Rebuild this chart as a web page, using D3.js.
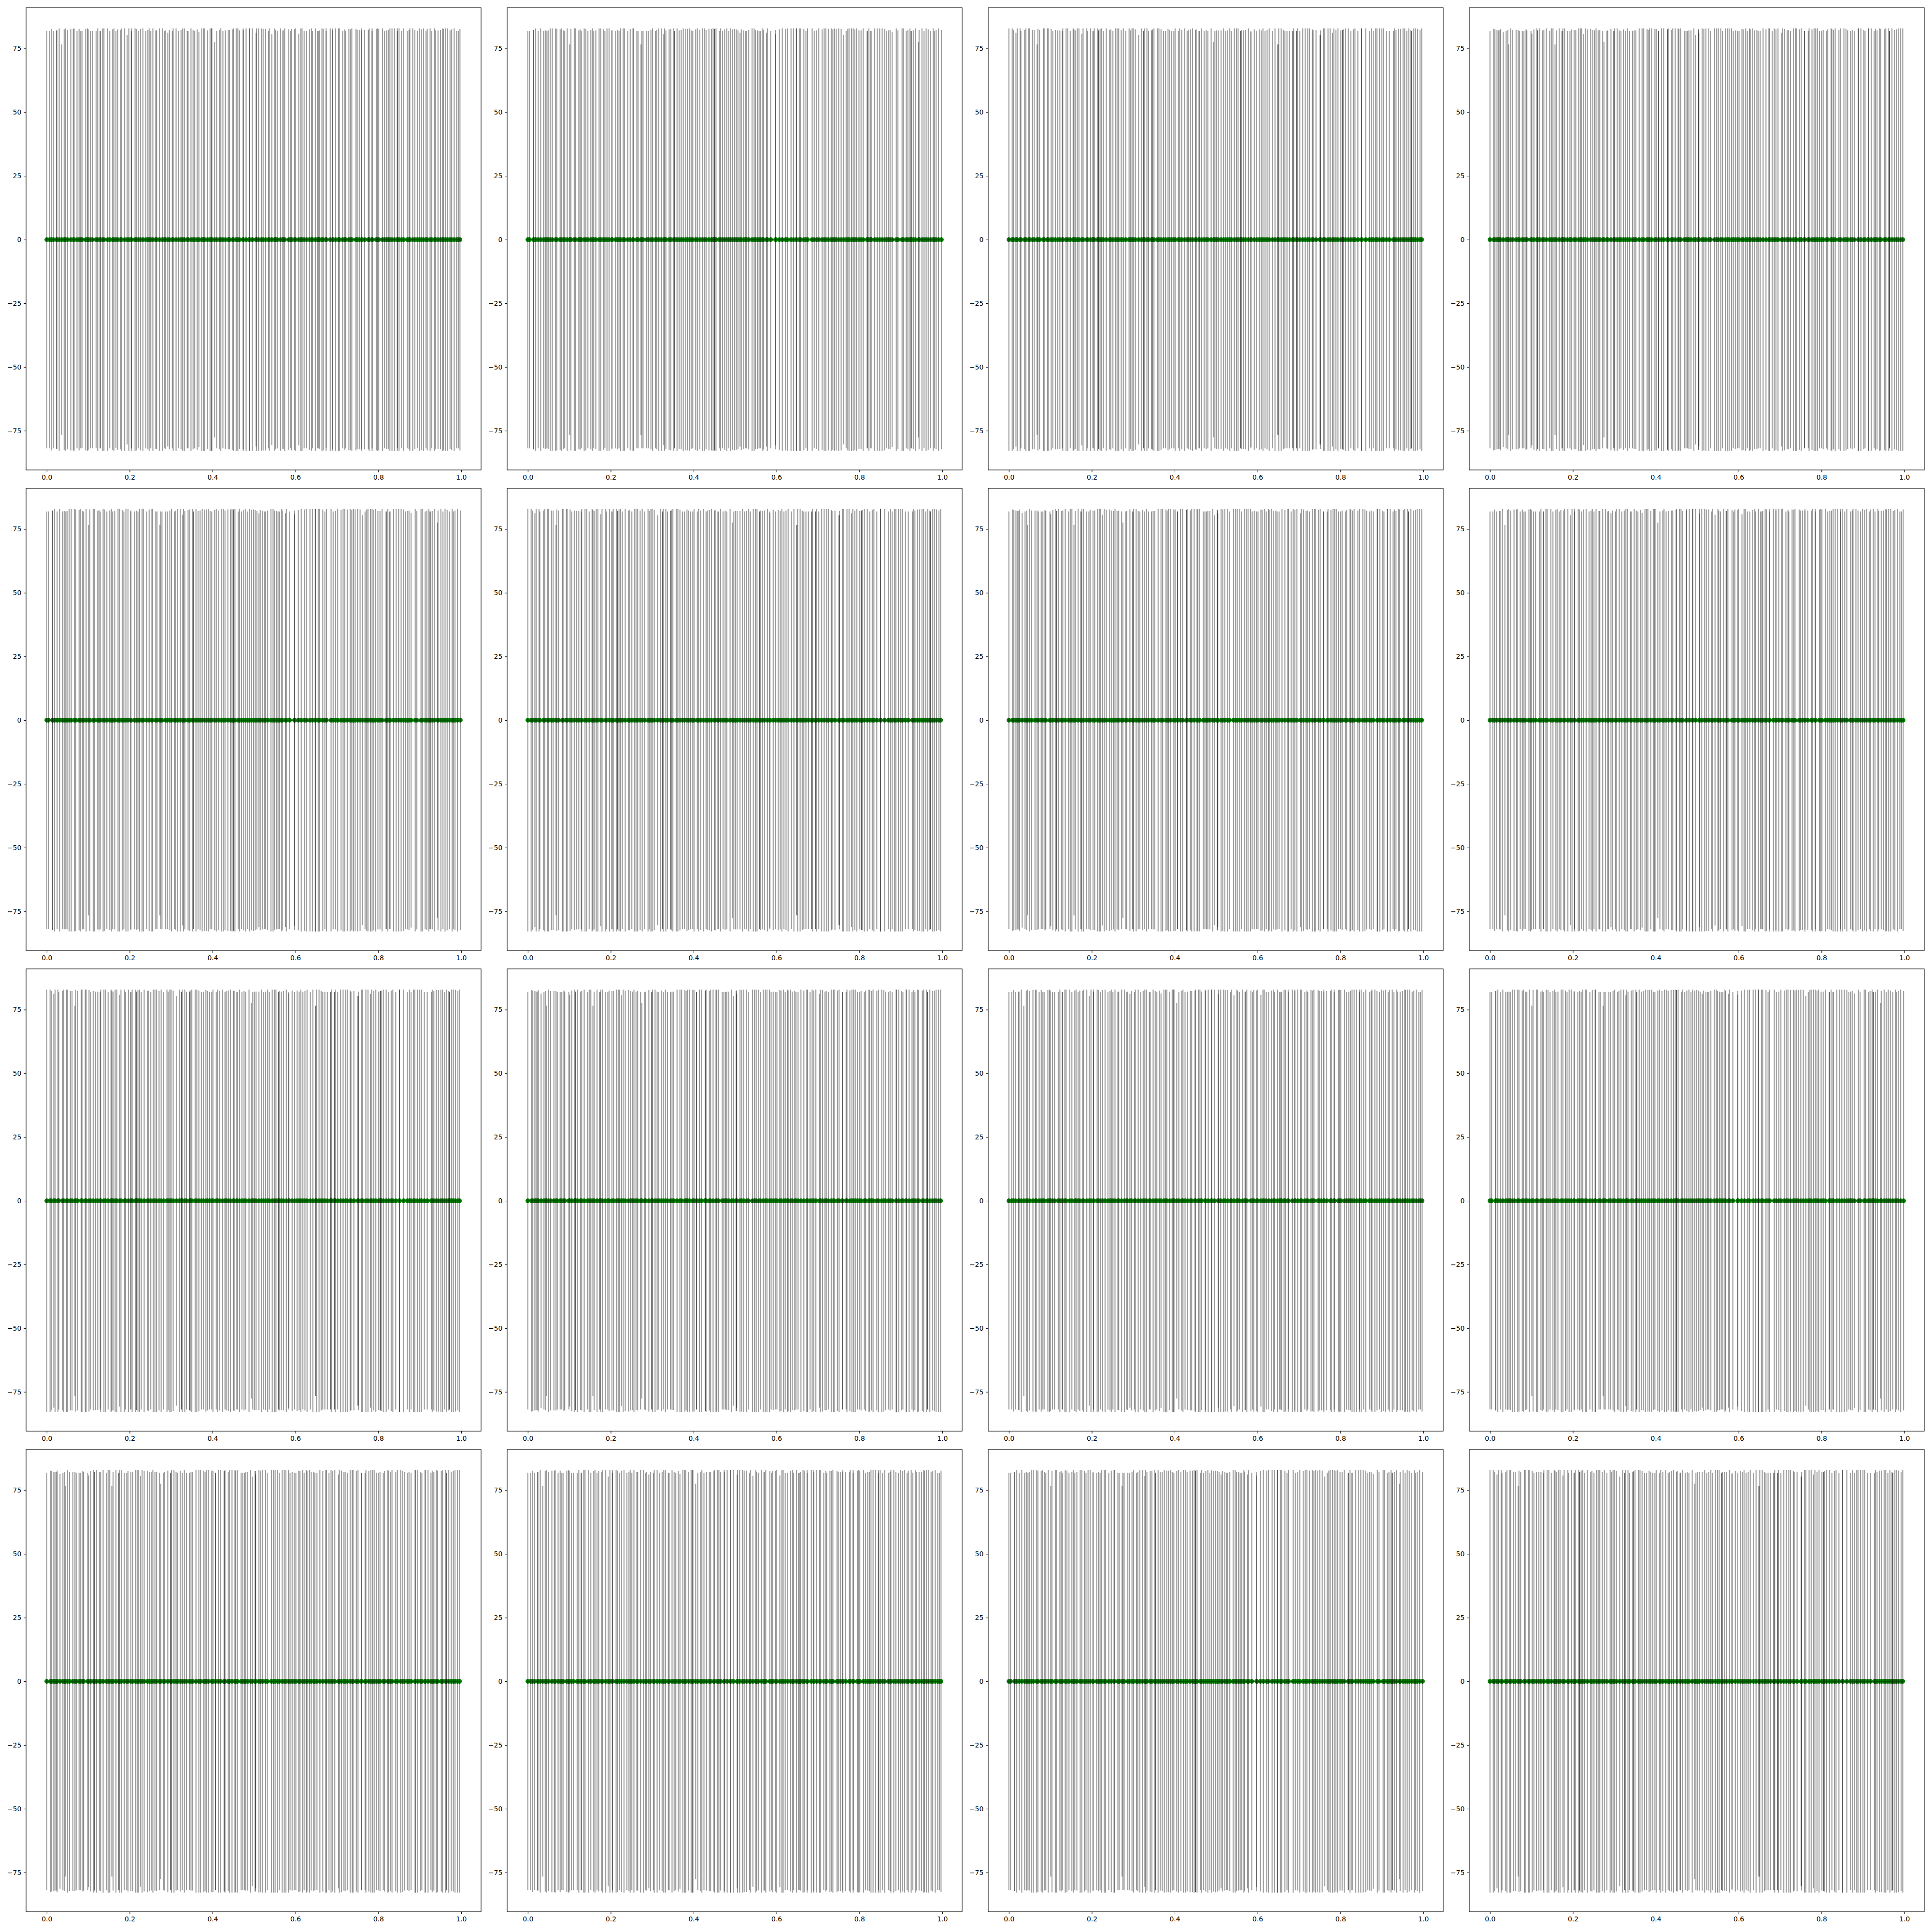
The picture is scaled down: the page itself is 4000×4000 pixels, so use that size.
<!DOCTYPE html>
<html><head><meta charset="utf-8">
<script src="https://cdn.jsdelivr.net/npm/d3@7"></script>
<style>body{margin:0;background:#fff} svg{display:block}</style>
</head><body>
<script>
const xTicks=[0,0.2,0.4,0.6,0.8,1.0];
const yTicks=[-75,-50,-25,0,25,50,75];
// each entry: [spike time, spike half-height]
const p1=[[0.000,81.9],[0.007,81.9],[0.011,82.7],[0.016,81.9],[0.024,82.1],[0.024,82.1],[0.030,82.9],[0.036,76.6],[0.042,82.5],[0.045,82.9],[0.050,82.3],[0.058,82.7],[0.064,82.7],[0.066,82.9],[0.073,81.9],[0.078,82.7],[0.082,81.9],[0.085,81.9],[0.094,82.7],[0.098,82.9],[0.100,82.5],[0.105,81.9],[0.110,81.9],[0.119,81.9],[0.123,82.9],[0.129,81.9],[0.129,81.9],[0.135,82.9],[0.138,82.9],[0.147,82.9],[0.152,81.9],[0.159,82.5],[0.162,82.9],[0.167,81.9],[0.171,82.5],[0.178,82.3],[0.180,82.9],[0.188,82.9],[0.194,80.4],[0.198,82.9],[0.204,82.9],[0.204,81.9],[0.213,82.9],[0.216,82.7],[0.221,81.9],[0.226,82.7],[0.232,82.9],[0.239,81.9],[0.244,82.3],[0.247,82.9],[0.251,81.9],[0.256,82.9],[0.263,82.1],[0.265,82.1],[0.272,82.9],[0.279,82.9],[0.284,81.9],[0.286,82.1],[0.292,81.2],[0.296,82.3],[0.303,81.9],[0.305,82.9],[0.312,82.9],[0.318,81.9],[0.324,82.3],[0.328,82.9],[0.332,82.9],[0.339,81.9],[0.341,81.9],[0.348,82.9],[0.353,82.3],[0.357,81.9],[0.363,82.5],[0.367,81.4],[0.374,82.9],[0.378,82.9],[0.381,82.9],[0.388,82.1],[0.394,82.9],[0.398,82.9],[0.398,82.9],[0.405,77.6],[0.410,81.9],[0.417,82.3],[0.420,82.9],[0.425,81.9],[0.431,82.1],[0.438,82.3],[0.441,82.3],[0.449,82.5],[0.450,82.9],[0.457,82.9],[0.461,82.9],[0.465,82.1],[0.474,82.3],[0.474,82.9],[0.481,82.9],[0.489,82.9],[0.489,82.9],[0.496,82.9],[0.505,81.2],[0.506,82.9],[0.511,82.9],[0.518,82.9],[0.522,82.7],[0.528,82.7],[0.535,81.9],[0.537,82.9],[0.543,80.6],[0.550,82.9],[0.552,82.3],[0.556,81.9],[0.564,82.9],[0.570,82.1],[0.570,82.1],[0.574,82.9],[0.584,82.5],[0.588,81.9],[0.591,82.7],[0.598,82.5],[0.600,82.9],[0.608,80.8],[0.613,82.9],[0.616,82.9],[0.621,81.9],[0.627,81.9],[0.634,82.5],[0.639,82.9],[0.641,81.9],[0.648,82.9],[0.653,81.9],[0.656,81.9],[0.658,82.1],[0.664,82.9],[0.667,82.7],[0.674,82.9],[0.674,81.9],[0.684,82.9],[0.690,82.9],[0.690,82.3],[0.697,82.9],[0.704,82.9],[0.706,82.9],[0.714,81.9],[0.719,82.5],[0.721,81.9],[0.729,82.7],[0.733,82.5],[0.736,82.9],[0.746,82.7],[0.749,82.3],[0.754,82.3],[0.760,82.9],[0.760,82.1],[0.767,82.3],[0.776,82.3],[0.778,82.9],[0.785,82.9],[0.785,81.9],[0.795,82.7],[0.798,82.9],[0.801,82.7],[0.810,82.9],[0.815,81.9],[0.820,82.1],[0.824,82.3],[0.828,82.9],[0.833,82.9],[0.839,82.9],[0.846,82.9],[0.846,81.9],[0.850,82.9],[0.856,81.9],[0.861,82.9],[0.870,81.9],[0.874,82.3],[0.876,82.9],[0.883,82.9],[0.888,82.3],[0.894,81.9],[0.899,82.9],[0.904,82.5],[0.909,82.9],[0.915,81.9],[0.918,82.7],[0.925,82.9],[0.929,81.9],[0.936,82.9],[0.938,82.1],[0.944,82.1],[0.950,82.3],[0.955,82.9],[0.957,82.7],[0.962,82.9],[0.967,82.9],[0.973,82.1],[0.977,82.5],[0.983,82.9],[0.989,81.9],[0.993,81.9],[0.997,82.7]];
const p2=[[0.000,81.9],[0.004,81.9],[0.014,82.3],[0.014,82.3],[0.019,82.9],[0.025,81.9],[0.031,82.9],[0.038,81.9],[0.042,82.1],[0.046,81.9],[0.049,82.1],[0.054,82.9],[0.059,82.9],[0.067,82.9],[0.070,82.7],[0.078,82.5],[0.081,82.9],[0.086,82.1],[0.089,81.9],[0.095,82.9],[0.101,76.6],[0.104,82.7],[0.112,82.9],[0.115,82.9],[0.123,82.1],[0.126,82.5],[0.129,81.9],[0.136,82.9],[0.140,82.7],[0.145,81.9],[0.152,82.3],[0.156,82.9],[0.159,81.9],[0.164,82.1],[0.172,82.9],[0.176,82.9],[0.182,82.5],[0.186,81.9],[0.191,82.9],[0.196,82.9],[0.203,82.3],[0.203,81.9],[0.212,81.9],[0.216,82.3],[0.220,81.9],[0.224,82.9],[0.230,82.9],[0.233,82.9],[0.241,81.9],[0.247,82.7],[0.254,82.9],[0.254,82.9],[0.263,81.9],[0.266,81.9],[0.273,76.6],[0.275,81.9],[0.278,81.9],[0.287,81.9],[0.291,81.9],[0.297,82.3],[0.301,82.9],[0.308,81.9],[0.311,82.3],[0.316,82.9],[0.322,82.9],[0.328,80.6],[0.330,82.9],[0.333,82.1],[0.341,82.5],[0.345,82.7],[0.352,82.9],[0.354,81.9],[0.354,81.9],[0.360,82.9],[0.365,82.1],[0.370,82.3],[0.375,82.9],[0.381,82.7],[0.385,82.7],[0.390,82.9],[0.394,82.1],[0.398,81.9],[0.405,82.5],[0.409,82.9],[0.415,82.3],[0.421,82.9],[0.426,82.9],[0.430,82.3],[0.437,82.7],[0.443,82.7],[0.447,82.9],[0.450,82.7],[0.450,82.7],[0.454,82.9],[0.462,81.9],[0.465,82.9],[0.470,81.9],[0.475,82.5],[0.480,82.9],[0.485,81.9],[0.489,82.9],[0.494,82.5],[0.499,82.7],[0.503,82.5],[0.507,82.1],[0.512,81.2],[0.515,82.5],[0.521,82.1],[0.525,81.9],[0.528,81.9],[0.533,82.3],[0.541,82.9],[0.546,82.9],[0.549,82.3],[0.554,82.1],[0.558,81.9],[0.562,81.9],[0.567,82.9],[0.568,82.3],[0.576,81.2],[0.578,82.9],[0.586,81.9],[0.598,82.3],[0.598,80.8],[0.607,82.5],[0.614,82.9],[0.622,82.7],[0.626,82.9],[0.635,82.9],[0.641,82.9],[0.648,82.9],[0.648,82.9],[0.655,82.9],[0.658,82.9],[0.666,82.7],[0.671,81.9],[0.675,82.9],[0.686,82.9],[0.691,81.9],[0.697,82.1],[0.702,82.9],[0.710,82.5],[0.715,82.9],[0.719,82.9],[0.725,82.7],[0.732,82.9],[0.736,82.5],[0.740,82.9],[0.744,82.7],[0.750,82.9],[0.756,82.7],[0.762,80.4],[0.768,81.9],[0.772,82.7],[0.775,82.9],[0.781,82.9],[0.785,82.9],[0.789,82.5],[0.793,82.9],[0.799,82.1],[0.804,82.1],[0.809,82.9],[0.819,81.9],[0.819,81.9],[0.823,82.9],[0.828,81.9],[0.828,81.9],[0.837,82.9],[0.843,82.9],[0.849,82.9],[0.855,82.9],[0.861,82.7],[0.866,81.9],[0.870,82.1],[0.874,82.3],[0.879,81.4],[0.889,82.9],[0.893,82.1],[0.903,82.9],[0.906,82.9],[0.913,81.9],[0.917,82.3],[0.922,82.9],[0.925,81.9],[0.925,81.9],[0.930,82.1],[0.935,82.9],[0.943,77.6],[0.944,82.3],[0.951,82.9],[0.956,81.9],[0.961,82.9],[0.966,82.5],[0.972,81.9],[0.978,82.9],[0.981,81.9],[0.985,82.3],[0.991,82.9],[0.998,82.3]];
const p3=[[0.000,82.9],[0.008,82.9],[0.011,82.3],[0.017,81.2],[0.020,82.9],[0.027,82.9],[0.029,81.9],[0.038,82.3],[0.041,82.9],[0.048,82.9],[0.050,82.9],[0.057,82.3],[0.061,82.3],[0.068,76.6],[0.070,82.7],[0.074,82.3],[0.083,82.9],[0.085,82.9],[0.093,82.9],[0.095,82.9],[0.102,82.7],[0.106,81.9],[0.112,82.3],[0.118,82.1],[0.123,82.1],[0.129,81.9],[0.130,82.9],[0.138,82.9],[0.142,82.9],[0.148,81.9],[0.155,82.9],[0.157,82.5],[0.160,82.1],[0.165,82.9],[0.169,82.9],[0.176,80.8],[0.179,82.9],[0.188,82.9],[0.190,81.9],[0.197,82.9],[0.203,81.9],[0.203,81.9],[0.206,82.9],[0.214,82.9],[0.216,82.1],[0.216,82.1],[0.220,82.7],[0.224,82.9],[0.228,81.9],[0.235,82.9],[0.243,82.3],[0.246,82.5],[0.251,81.9],[0.257,82.9],[0.261,82.9],[0.265,82.9],[0.271,82.3],[0.276,82.9],[0.282,81.9],[0.290,82.9],[0.293,82.1],[0.297,82.9],[0.300,82.9],[0.305,82.5],[0.313,80.4],[0.320,82.9],[0.325,81.9],[0.325,81.9],[0.327,82.9],[0.333,82.9],[0.337,81.9],[0.345,82.1],[0.345,82.1],[0.346,82.5],[0.350,82.9],[0.358,82.9],[0.362,82.9],[0.367,82.5],[0.373,81.9],[0.378,81.9],[0.384,82.7],[0.388,82.3],[0.393,81.9],[0.398,81.9],[0.401,82.9],[0.409,81.9],[0.412,82.9],[0.417,82.3],[0.424,82.9],[0.430,81.9],[0.433,82.3],[0.438,82.5],[0.443,82.9],[0.450,82.3],[0.452,82.5],[0.459,81.9],[0.459,81.9],[0.465,82.9],[0.471,81.9],[0.476,82.3],[0.480,81.9],[0.488,82.9],[0.494,77.6],[0.497,81.9],[0.501,82.1],[0.505,82.1],[0.512,82.1],[0.518,82.9],[0.523,81.9],[0.528,82.1],[0.533,82.9],[0.537,81.9],[0.544,82.9],[0.549,82.9],[0.553,82.9],[0.559,81.9],[0.559,81.9],[0.561,82.3],[0.566,82.1],[0.571,82.3],[0.578,82.9],[0.584,81.4],[0.584,81.9],[0.592,82.5],[0.598,81.9],[0.604,82.5],[0.609,82.1],[0.613,82.9],[0.618,81.9],[0.623,82.3],[0.628,82.9],[0.636,81.9],[0.642,82.9],[0.649,76.6],[0.649,76.6],[0.651,82.9],[0.657,82.9],[0.662,82.3],[0.666,81.9],[0.671,81.9],[0.677,81.9],[0.685,81.9],[0.685,81.9],[0.687,82.9],[0.694,81.9],[0.694,81.9],[0.696,82.9],[0.702,81.9],[0.709,82.9],[0.715,82.9],[0.721,82.9],[0.725,82.9],[0.732,82.5],[0.734,82.1],[0.741,82.3],[0.751,80.4],[0.751,80.4],[0.752,82.1],[0.759,82.9],[0.762,82.9],[0.770,82.9],[0.775,82.9],[0.781,81.2],[0.784,82.9],[0.789,82.3],[0.794,82.9],[0.801,82.1],[0.805,82.3],[0.805,82.3],[0.807,82.5],[0.812,82.9],[0.819,82.9],[0.825,81.9],[0.831,82.5],[0.835,82.9],[0.842,81.9],[0.851,82.9],[0.851,82.9],[0.861,82.9],[0.870,81.9],[0.875,82.9],[0.879,81.9],[0.885,82.9],[0.888,82.9],[0.894,82.9],[0.900,82.9],[0.904,82.9],[0.911,81.9],[0.918,81.9],[0.928,81.9],[0.930,82.9],[0.934,82.3],[0.940,82.7],[0.945,82.7],[0.951,82.9],[0.955,82.9],[0.960,81.9],[0.965,82.9],[0.970,82.3],[0.972,81.9],[0.972,81.9],[0.977,82.9],[0.981,82.9],[0.986,82.7],[0.992,82.3],[0.996,82.9]];
const p4=[[0.000,81.9],[0.009,82.7],[0.012,82.5],[0.017,82.3],[0.020,82.1],[0.024,82.1],[0.025,82.7],[0.032,81.4],[0.039,81.9],[0.043,82.3],[0.045,76.6],[0.050,82.9],[0.055,82.3],[0.063,82.3],[0.068,82.3],[0.071,81.9],[0.078,81.9],[0.082,81.9],[0.087,82.5],[0.089,82.1],[0.099,81.9],[0.101,80.8],[0.106,82.5],[0.113,82.9],[0.115,82.1],[0.115,82.1],[0.120,82.9],[0.127,82.1],[0.130,82.3],[0.136,82.9],[0.144,81.9],[0.148,82.9],[0.152,82.9],[0.157,76.6],[0.160,82.1],[0.167,82.9],[0.174,81.9],[0.174,81.9],[0.176,82.9],[0.180,82.9],[0.187,81.9],[0.193,81.9],[0.196,82.5],[0.203,82.3],[0.207,82.3],[0.214,82.9],[0.218,82.9],[0.221,82.9],[0.226,80.6],[0.230,82.9],[0.235,82.5],[0.243,82.7],[0.248,82.3],[0.252,82.1],[0.256,82.9],[0.261,82.1],[0.265,82.3],[0.272,81.9],[0.275,77.6],[0.282,81.9],[0.284,82.1],[0.292,82.7],[0.299,81.9],[0.299,81.9],[0.301,82.9],[0.307,82.9],[0.312,82.1],[0.316,81.9],[0.322,82.5],[0.327,81.9],[0.332,82.9],[0.337,81.9],[0.344,81.9],[0.348,82.1],[0.352,82.1],[0.360,82.9],[0.367,82.9],[0.371,82.9],[0.379,82.7],[0.382,82.3],[0.385,82.9],[0.390,82.9],[0.398,82.7],[0.401,82.7],[0.407,81.9],[0.407,81.9],[0.414,82.9],[0.419,82.9],[0.428,82.5],[0.428,82.5],[0.430,82.9],[0.438,82.3],[0.441,82.9],[0.447,82.9],[0.454,82.9],[0.456,82.7],[0.460,82.9],[0.469,81.9],[0.473,81.9],[0.477,81.9],[0.480,82.1],[0.485,82.1],[0.492,82.9],[0.496,80.4],[0.503,82.5],[0.503,82.5],[0.504,81.2],[0.512,82.9],[0.516,82.7],[0.521,82.9],[0.528,82.9],[0.532,81.9],[0.542,82.9],[0.547,82.9],[0.551,82.9],[0.557,82.9],[0.561,81.9],[0.568,82.9],[0.573,82.9],[0.577,82.9],[0.583,82.9],[0.587,81.9],[0.592,82.1],[0.597,81.9],[0.601,81.9],[0.608,82.7],[0.611,82.5],[0.617,82.9],[0.621,81.9],[0.626,82.9],[0.628,82.5],[0.634,82.9],[0.638,82.1],[0.644,82.3],[0.647,81.9],[0.652,81.9],[0.659,82.9],[0.666,82.5],[0.673,82.9],[0.675,82.9],[0.681,81.9],[0.686,82.9],[0.690,82.5],[0.695,82.9],[0.704,81.2],[0.706,82.9],[0.711,82.7],[0.717,82.1],[0.720,82.3],[0.725,81.9],[0.732,82.9],[0.737,82.9],[0.739,82.9],[0.747,82.5],[0.751,82.9],[0.759,81.9],[0.759,81.9],[0.768,81.9],[0.770,82.9],[0.777,82.5],[0.782,82.9],[0.786,82.9],[0.790,82.9],[0.795,81.9],[0.800,81.9],[0.804,82.3],[0.812,81.9],[0.815,82.5],[0.823,82.9],[0.825,82.7],[0.829,82.3],[0.833,82.9],[0.842,82.3],[0.846,82.9],[0.854,82.9],[0.859,82.7],[0.863,82.1],[0.870,81.9],[0.874,82.3],[0.879,81.9],[0.889,82.9],[0.889,82.9],[0.895,82.9],[0.902,82.3],[0.905,81.9],[0.913,82.9],[0.913,82.9],[0.920,82.9],[0.927,81.9],[0.930,82.7],[0.934,82.1],[0.940,82.9],[0.943,82.7],[0.952,82.5],[0.955,82.9],[0.962,82.9],[0.964,81.9],[0.964,81.9],[0.970,82.9],[0.976,82.3],[0.981,82.5],[0.985,82.9],[0.991,82.9],[0.996,82.9]];
// panels 5-16: not yet read individually; provisionally share the readings of the first row
const p5=p2,p6=p3,p7=p4,p8=p1,p9=p3,p10=p4,p11=p1,p12=p2,p13=p4,p14=p1,p15=p2,p16=p3;
const panels=[p1,p2,p3,p4,p5,p6,p7,p8,p9,p10,p11,p12,p13,p14,p15,p16];

const W=4000,H=4000,PW=942,PH=957;
const svg=d3.select('body').append('svg').attr('width',W).attr('height',H);
svg.append('rect').attr('width',W).attr('height',H).attr('fill','#fff');
const x=d3.scaleLinear().domain([-0.0499,1.0479]).range([0,PW]);
const y=d3.scaleLinear().domain([-90.4,91.0]).range([PH,0]);
const minus=d=>d<0?'\u2212'+Math.abs(d):String(d);

panels.forEach((data,i)=>{
  const r=Math.floor(i/4),c=i%4;
  const g=svg.append('g').attr('transform',`translate(${54+996*c},${16+995*r})`);
  const clip='clip'+i;
  g.append('clipPath').attr('id',clip).append('rect').attr('width',PW).attr('height',PH);
  const pg=g.append('g').attr('clip-path',`url(#${clip})`);
  pg.selectAll('circle').data(data).join('circle')
    .attr('cx',d=>x(d[0])).attr('cy',y(0)).attr('r',4.8).attr('fill','#008000');
  if(data.length) pg.append('path').datum(data)
    .attr('d',d3.line().x(d=>x(d[0])).y(()=>y(0)))
    .attr('fill','none').attr('stroke','#000').attr('stroke-opacity',0.35).attr('stroke-width',1);
  pg.selectAll('line.sp').data(data).join('line').attr('class','sp')
    .attr('x1',d=>x(d[0])).attr('x2',d=>x(d[0]))
    .attr('y1',d=>y(-d[1])).attr('y2',d=>y(d[1]))
    .attr('stroke','#000').attr('stroke-opacity',0.4).attr('stroke-width',2.08);
  const xa=g.append('g').attr('transform',`translate(0,${PH})`)
    .call(d3.axisBottom(x).tickValues(xTicks).tickFormat(d3.format('.1f')).tickSize(4.86).tickPadding(4.86));
  const ya=g.append('g')
    .call(d3.axisLeft(y).tickValues(yTicks).tickFormat(minus).tickSize(4.86).tickPadding(4.86));
  [xa,ya].forEach(a=>{
    a.select('.domain').remove();
    a.attr('font-family','"DejaVu Sans", sans-serif').attr('font-size',13.9);
    a.selectAll('line').attr('stroke','#000').attr('stroke-width',1.11);
    a.selectAll('text').attr('fill','#000');
  });
  g.append('rect').attr('width',PW).attr('height',PH).attr('fill','none')
    .attr('stroke','#000').attr('stroke-width',1.11);
});
</script>
</body></html>
